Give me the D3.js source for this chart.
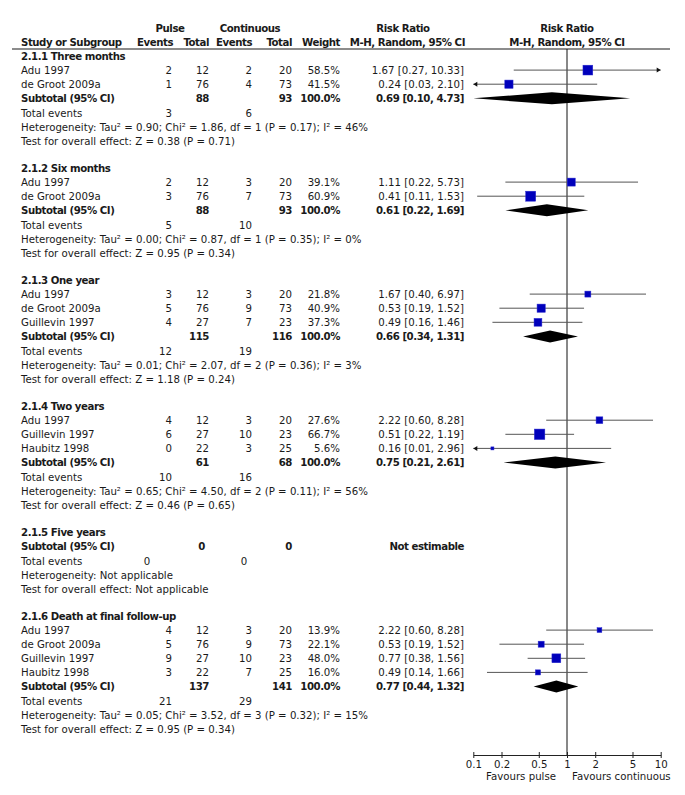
<!DOCTYPE html>
<html>
<head>
<meta charset="utf-8">
<script src="https://cdn.jsdelivr.net/npm/d3@7"></script>
<style>body { margin: 0; background: #fff; }</style>
</head>
<body>
<script>
let width = 685;
let height = 795;

// subgroups
let groups = ["2.1.1 Three months", "2.1.2 Six months", "2.1.3 One year",
    "2.1.4 Two years", "2.1.5 Five years", "2.1.6 Death at final follow-up"];

// studies
let studyGroup = [0, 0, 1, 1, 2, 2, 2, 3, 3, 3, 5, 5, 5, 5];
let studyNames = ["Adu 1997", "de Groot 2009a", "Adu 1997", "de Groot 2009a",
    "Adu 1997", "de Groot 2009a", "Guillevin 1997",
    "Adu 1997", "Guillevin 1997", "Haubitz 1998",
    "Adu 1997", "de Groot 2009a", "Guillevin 1997", "Haubitz 1998"];
let pulseEvents = [2, 1, 2, 3, 3, 5, 4, 4, 6, 0, 4, 5, 9, 3];
let pulseTotal = [12, 76, 12, 76, 12, 76, 27, 12, 27, 22, 12, 76, 27, 22];
let contEvents = [2, 4, 3, 7, 3, 9, 7, 3, 10, 3, 3, 9, 10, 7];
let contTotal = [20, 73, 20, 73, 20, 73, 23, 20, 23, 25, 20, 73, 23, 25];
let weights = [58.5, 41.5, 39.1, 60.9, 21.8, 40.9, 37.3, 27.6, 66.7, 5.6, 13.9, 22.1, 48.0, 16.0];
let rr = [1.67, 0.24, 1.11, 0.41, 1.67, 0.53, 0.49, 2.22, 0.51, 0.16, 2.22, 0.53, 0.77, 0.49];
let rrLow = [0.27, 0.03, 0.22, 0.11, 0.40, 0.19, 0.16, 0.60, 0.22, 0.01, 0.60, 0.19, 0.38, 0.14];
let rrHigh = [10.33, 2.10, 5.73, 1.53, 6.97, 1.52, 1.46, 8.28, 1.19, 2.96, 8.28, 1.52, 1.56, 1.66];

// subtotals
let subPulseTotal = [88, 88, 115, 61, 0, 137];
let subContTotal = [93, 93, 116, 68, 0, 141];
let subRR = [0.69, 0.61, 0.66, 0.75, null, 0.77];
let subLow = [0.10, 0.22, 0.34, 0.21, null, 0.44];
let subHigh = [4.73, 1.69, 1.31, 2.61, null, 1.32];
let totalPulseEvents = [3, 5, 12, 10, 0, 21];
let totalContEvents = [6, 10, 19, 16, 0, 29];
let heterogeneity = [
    "Tau² = 0.90; Chi² = 1.86, df = 1 (P = 0.17); I² = 46%",
    "Tau² = 0.00; Chi² = 0.87, df = 1 (P = 0.35); I² = 0%",
    "Tau² = 0.01; Chi² = 2.07, df = 2 (P = 0.36); I² = 3%",
    "Tau² = 0.65; Chi² = 4.50, df = 2 (P = 0.11); I² = 56%",
    "Not applicable",
    "Tau² = 0.05; Chi² = 3.52, df = 3 (P = 0.32); I² = 15%"];
let overallEffect = ["Z = 0.38 (P = 0.71)", "Z = 0.95 (P = 0.34)", "Z = 1.18 (P = 0.24)",
    "Z = 0.46 (P = 0.65)", "Not applicable", "Z = 0.95 (P = 0.34)"];

// axis
let tickValues = [0.1, 0.2, 0.5, 1, 2, 5, 10];
let tickLabels = ["0.1", "0.2", "0.5", "1", "2", "5", "10"];

let svg = d3.select("body").append("svg")
    .attr("width", width)
    .attr("height", height)
    .style("font-family", "'DejaVu Sans', sans-serif")
    .style("font-size", "10.2px")
    .attr("fill", "#1a1a1a");

let x = d3.scaleLog().domain([0.1, 10]).range([473.3, 660.7]);
let boxSize = d3.scaleSqrt().domain([0, 100]).range([0, 12.8]);

let fmt = d3.format(".2f");

let txt = (xp, yp, s, anchor, bold) => {
    svg.append("text")
        .attr("x", xp)
        .attr("y", yp)
        .attr("dy", "0.36em")
        .attr("text-anchor", anchor || "start")
        .style("font-weight", bold ? "bold" : null)
        .style("letter-spacing", bold ? "-0.45px" : null)
        .text(s);
};

// Header
txt(170, 28, "Pulse", "middle", true);
txt(250, 28, "Continuous", "middle", true);
txt(403, 28, "Risk Ratio", "middle", true);
txt(567, 28, "Risk Ratio", "middle", true);
txt(21, 42, "Study or Subgroup", "start", true);
txt(173, 42, "Events", "end", true);
txt(209, 42, "Total", "end", true);
txt(252, 42, "Events", "end", true);
txt(292, 42, "Total", "end", true);
txt(340, 42, "Weight", "end", true);
txt(465, 42, "M-H, Random, 95% CI", "end", true);
txt(567, 42, "M-H, Random, 95% CI", "middle", true);

svg.append("line")
    .attr("x1", 12).attr("x2", 670)
    .attr("y1", 49).attr("y2", 49)
    .attr("stroke", "#8c8c8c")
    .attr("stroke-width", 1.8);

let axisY = 755;

// line of no effect
svg.append("line")
    .attr("x1", x(1)).attr("x2", x(1))
    .attr("y1", 49).attr("y2", axisY)
    .attr("stroke", "#111")
    .attr("stroke-width", 1);

let rowH = 14.1;
let y = 56;
let marks = svg.append("g");

let arrow = (xt, yc, dir) => {
    marks.append("path")
        .attr("d", `M${xt},${yc}L${xt - dir * 4},${yc - 2.5}L${xt - dir * 4},${yc + 2.5}Z`)
        .attr("fill", "#111");
};

groups.forEach((gname, g) => {
    txt(21, y, gname, "start", true);
    y += rowH;

    let idx = d3.range(studyNames.length).filter(i => studyGroup[i] === g);
    idx.forEach(i => {
        txt(21, y, studyNames[i]);
        txt(172, y, pulseEvents[i], "end");
        txt(209, y, pulseTotal[i], "end");
        txt(252, y, contEvents[i], "end");
        txt(292, y, contTotal[i], "end");
        txt(340, y, weights[i].toFixed(1) + "%", "end");
        txt(464, y, `${fmt(rr[i])} [${fmt(rrLow[i])}, ${fmt(rrHigh[i])}]`, "end");

        let lo = Math.max(rrLow[i], 0.1);
        let hi = Math.min(rrHigh[i], 10);
        marks.append("line")
            .attr("x1", x(lo)).attr("x2", x(hi))
            .attr("y1", y).attr("y2", y)
            .attr("stroke", "#555")
            .attr("stroke-width", 1);
        if (rrLow[i] < 0.1) arrow(x(0.1), y, -1);
        if (rrHigh[i] > 10) arrow(x(10), y, 1);

        let s = boxSize(weights[i]);
        marks.append("rect")
            .attr("x", x(rr[i]) - s / 2)
            .attr("y", y - s / 2)
            .attr("width", s)
            .attr("height", s)
            .attr("fill", "#0000bb")
            .attr("stroke", "#2a2ad0")
            .attr("stroke-width", 0.5);
        y += rowH;
    });

    let empty = idx.length === 0;
    txt(21, y, "Subtotal (95% CI)", "start", true);
    txt(empty ? 205 : 209, y, subPulseTotal[g], "end", true);
    txt(292, y, subContTotal[g], "end", true);
    if (empty) {
        txt(464, y, "Not estimable", "end", true);
    } else {
        txt(340, y, "100.0%", "end", true);
        txt(464, y, `${fmt(subRR[g])} [${fmt(subLow[g])}, ${fmt(subHigh[g])}]`, "end", true);
        let h = 6;
        marks.append("path")
            .attr("d", `M${x(subLow[g])},${y}L${x(subRR[g])},${y - h}L${x(subHigh[g])},${y}L${x(subRR[g])},${y + h}Z`)
            .attr("fill", "#000");
    }
    y += rowH + 1;

    txt(21, y, "Total events");
    if (empty) {
        txt(147, y, totalPulseEvents[g], "middle");
        txt(244, y, totalContEvents[g], "middle");
    } else {
        txt(172, y, totalPulseEvents[g], "end");
        txt(252, y, totalContEvents[g], "end");
    }
    y += rowH;
    txt(21, y, "Heterogeneity: " + heterogeneity[g]);
    y += rowH;
    txt(21, y, "Test for overall effect: " + overallEffect[g]);
    y += rowH + 12.3;
});

// Axis
let axis = d3.axisBottom(x)
    .tickValues(tickValues)
    .tickFormat((d, i) => tickLabels[i])
    .tickSize(3)
    .tickSizeOuter(0)
    .tickPadding(3);

let ax = svg.append("g")
    .attr("transform", `translate(0,${axisY})`)
    .call(axis);
ax.select(".domain").attr("stroke", "#222");
ax.selectAll(".tick line").attr("y1", -3).attr("stroke", "#222");
ax.selectAll(".tick text")
    .attr("fill", "#1a1a1a")
    .style("font-family", "'DejaVu Sans', sans-serif")
    .style("font-size", "10.2px");

txt(556, 776, "Favours pulse", "end");
txt(572, 776, "Favours continuous", "start");
</script>
</body>
</html>
